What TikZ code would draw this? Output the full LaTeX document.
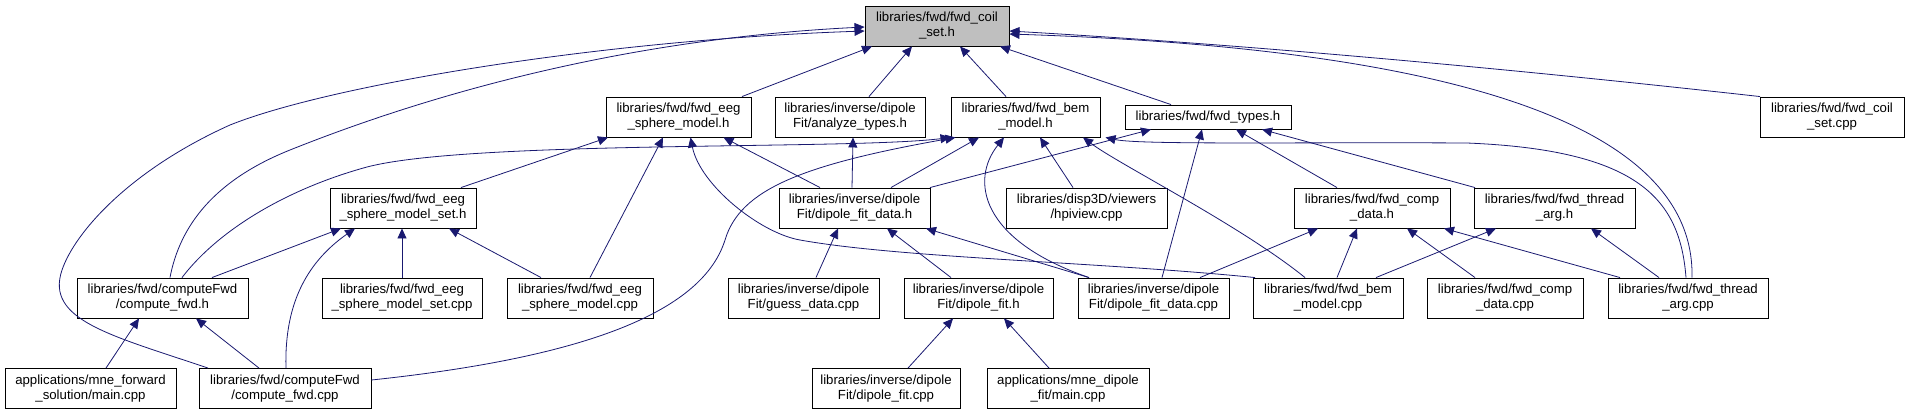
\documentclass[tikz,border=0pt]{standalone}
\usepackage{fontspec}
\setmainfont{Liberation Sans}
\usetikzlibrary{arrows.meta}
\definecolor{edgeblue}{HTML}{191970}
\definecolor{curgray}{HTML}{BFBFBF}

\begin{document}
\begin{tikzpicture}[x=1pt,y=-1pt,>={Triangle[length=10pt,width=9pt]},
  box/.style={draw=black,line width=0.9pt,fill=white,inner sep=1pt,minimum height=40pt,align=center,
    font=\fontsize{13.2}{15}\selectfont},
  incl/.style={->,draw=edgeblue,line width=0.8pt}]
 \useasboundingbox (0,0) rectangle (1909,416);

 \node[box,fill=curgray,minimum width=144pt] (coilh) at (937,26) {libraries/fwd/fwd\_coil\\\_set.h};

 \node[box,minimum width=145pt] (eegh) at (678.5,117) {libraries/fwd/fwd\_eeg\\\_sphere\_model.h};
 \node[box,minimum width=150pt] (anah) at (850,117) {libraries/inverse/dipole\\Fit/analyze\_types.h};
 \node[box,minimum width=149pt] (bemh) at (1025.5,117) {libraries/fwd/fwd\_bem\\\_model.h};
 \node[box,minimum width=166pt,minimum height=24pt] (typesh) at (1208,117) {libraries/fwd/fwd\_types.h};
 \node[box,minimum width=144pt] (coilcpp) at (1832,117) {libraries/fwd/fwd\_coil\\\_set.cpp};

 \node[box,minimum width=146pt] (eegseth) at (403,208) {libraries/fwd/fwd\_eeg\\\_sphere\_model\_set.h};
 \node[box,minimum width=151pt] (dfdatah) at (854.5,208) {libraries/inverse/dipole\\Fit/dipole\_fit\_data.h};
 \node[box,minimum width=161pt] (hpiview) at (1086.5,208) {libraries/disp3D/viewers\\/hpiview.cpp};
 \node[box,minimum width=156pt] (comph) at (1372,208) {libraries/fwd/fwd\_comp\\\_data.h};
 \node[box,minimum width=161pt] (threadh) at (1554.5,208) {libraries/fwd/fwd\_thread\\\_arg.h};

 \node[box,minimum width=171pt] (cfwdh) at (162.5,298) {libraries/fwd/computeFwd\\/compute\_fwd.h};
 \node[box,minimum width=160pt] (eegsetcpp) at (402,298) {libraries/fwd/fwd\_eeg\\\_sphere\_model\_set.cpp};
 \node[box,minimum width=146pt] (eegcpp) at (580,298) {libraries/fwd/fwd\_eeg\\\_sphere\_model.cpp};
 \node[box,minimum width=151pt] (guesscpp) at (803.5,298) {libraries/inverse/dipole\\Fit/guess\_data.cpp};
 \node[box,minimum width=149pt] (dfith) at (978.5,298) {libraries/inverse/dipole\\Fit/dipole\_fit.h};
 \node[box,minimum width=151pt] (dfdatacpp) at (1153.5,298) {libraries/inverse/dipole\\Fit/dipole\_fit\_data.cpp};
 \node[box,minimum width=150pt] (bemcpp) at (1328,298) {libraries/fwd/fwd\_bem\\\_model.cpp};
 \node[box,minimum width=156pt] (compcpp) at (1505,298) {libraries/fwd/fwd\_comp\\\_data.cpp};
 \node[box,minimum width=160pt] (threadcpp) at (1688,298) {libraries/fwd/fwd\_thread\\\_arg.cpp};

 \node[box,minimum width=171pt] (fwdmain) at (90.5,388.5) {applications/mne\_forward\\\_solution/main.cpp};
 \node[box,minimum width=172pt] (cfwdcpp) at (285,388.5) {libraries/fwd/computeFwd\\/compute\_fwd.cpp};
 \node[box,minimum width=148pt] (dfitcpp) at (886,388.5) {libraries/inverse/dipole\\Fit/dipole\_fit.cpp};
 \node[box,minimum width=162pt] (dipmain) at (1068,388.5) {applications/mne\_dipole\\\_fit/main.cpp};

 \draw[incl] ([xshift=63.5]eegh.north) -- ([xshift=-65]coilh.south);
 \draw[incl] ([xshift=19]anah.north) -- ([xshift=-25]coilh.south);
 \draw[incl] ([xshift=-19.5]bemh.north) -- ([xshift=23]coilh.south);
 \draw[incl] ([xshift=-37]typesh.north) -- ([xshift=63]coilh.south);
 \draw[incl] ([xshift=-72]coilcpp.north) .. controls (1450,62) and (1200,42) .. ([yshift=-5]coilh.east);
 \draw[incl] ([xshift=4]threadcpp.north) .. controls (1695,140) and (1500,50) .. ([yshift=-8]coilh.east);
 \draw[incl] ([xshift=7.5]cfwdh.north) .. controls (180,225) and (215,180) .. (290,150)
   .. controls (400,106) and (600,40) .. ([yshift=-1]coilh.west);
 \draw[incl] ([xshift=-77]cfwdcpp.north) .. controls (110,335) and (45,320) .. (62,270)
   .. controls (75,232) and (130,170) .. (230,125) .. controls (330,85) and (600,40) .. ([yshift=-5]coilh.west);

 \draw[incl] ([xshift=19.5]cfwdh.north) .. controls (220,228) and (290,188) .. (367,167)
   .. controls (470,140) and (850,150) .. ([xshift=-75]bemh.south);
 \draw[incl] ([yshift=8.5]cfwdcpp.east) .. controls (560,360) and (700,320) .. (725,240)
   .. controls (740,190) and (800,165) .. ([xshift=-70]bemh.south);
 \draw[incl] ([xshift=36.5]dfdatah.north) -- ([xshift=-46.5]bemh.south);
 \draw[incl] ([xshift=-64.5]dfdatacpp.north) .. controls (980,240) and (970,180) .. ([xshift=-21.5]bemh.south);
 \draw[incl] ([xshift=-13.5]hpiview.north) -- ([xshift=14.5]bemh.south);
 \draw[incl] ([xshift=-23]bemcpp.north) .. controls (1240,225) and (1120,165) .. ([xshift=57.5]bemh.south);
 \draw[incl] ([xshift=-2]threadcpp.north) .. controls (1680,200) and (1640,150) .. (1467,143)
   .. controls (1300,142) and (1140,145) .. ([xshift=80]bemh.south);

 \draw[incl] ([xshift=58]eegseth.north) -- ([xshift=-70.5]eegh.south);
 \draw[incl] ([xshift=10]eegcpp.north) -- ([xshift=-15.5]eegh.south);
 \draw[incl] ([xshift=-73]bemcpp.north) .. controls (1100,262) and (900,258) .. (800,240)
   .. controls (760,233) and (700,185) .. ([xshift=12]eegh.south);
 \draw[incl] ([xshift=-34.5]dfdatah.north) -- ([xshift=45]eegh.south);

 \draw[incl] ([xshift=-2.5]dfdatah.north) -- ([xshift=3]anah.south);

 \draw[incl] ([xshift=75.5]dfdatah.north) -- ([xshift=-57]typesh.south);
 \draw[incl] ([xshift=8.5]dfdatacpp.north) -- ([xshift=-6]typesh.south);
 \draw[incl] ([xshift=-35]comph.north) -- ([xshift=28]typesh.south);
 \draw[incl] ([xshift=-79.5]threadh.north) -- ([xshift=54]typesh.south);

 \draw[incl] ([xshift=49.5]cfwdh.north) -- ([xshift=-62]eegseth.south);
 \draw[incl] ([xshift=1]cfwdcpp.north) .. controls (284,300) and (310,260) .. ([xshift=-48]eegseth.south);
 \draw[incl] (eegsetcpp.north) -- ([xshift=-1]eegseth.south);
 \draw[incl] ([xshift=-39]eegcpp.north) -- ([xshift=46]eegseth.south);

 \draw[incl] ([xshift=15.5]fwdmain.north) -- ([xshift=-23.5]cfwdh.south);
 \draw[incl] ([xshift=-26]cfwdcpp.north) -- ([xshift=33.5]cfwdh.south);

 \draw[incl] ([xshift=12.5]guesscpp.north) -- ([xshift=-16.5]dfdatah.south);
 \draw[incl] ([xshift=-27.5]dfith.north) -- ([xshift=32.5]dfdatah.south);
 \draw[incl] ([xshift=-64.5]dfdatacpp.north) -- ([xshift=71.5]dfdatah.south);

 \draw[incl] ([xshift=22]dfitcpp.north) -- ([xshift=-25.5]dfith.south);
 \draw[incl] ([xshift=-19]dipmain.north) -- ([xshift=25.5]dfith.south);

 \draw[incl] ([xshift=46.5]dfdatacpp.north) -- ([xshift=-54]comph.south);
 \draw[incl] ([xshift=9]bemcpp.north) -- ([xshift=-15]comph.south);
 \draw[incl] ([xshift=-30]compcpp.north) -- ([xshift=35]comph.south);
 \draw[incl] ([xshift=-68]threadcpp.north) -- ([xshift=72]comph.south);

 \draw[incl] ([xshift=48]bemcpp.north) -- ([xshift=-58.5]threadh.south);
 \draw[incl] ([xshift=-29]threadcpp.north) -- ([xshift=36.5]threadh.south);
\end{tikzpicture}
\end{document}
